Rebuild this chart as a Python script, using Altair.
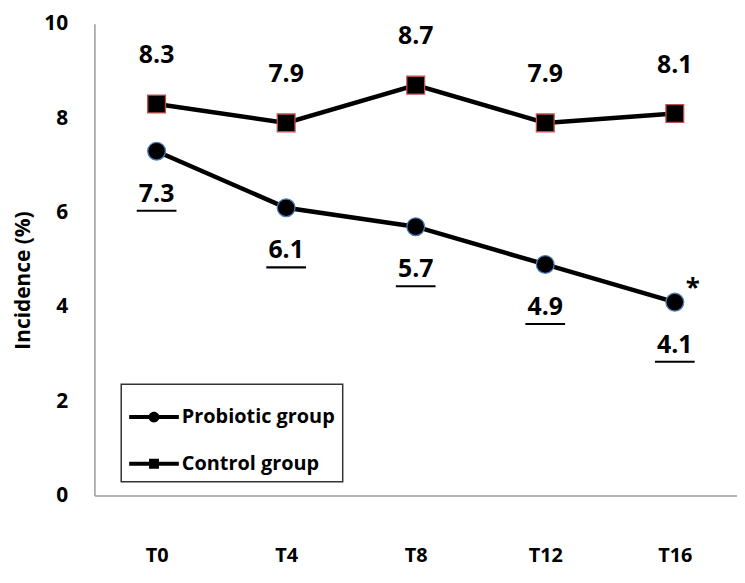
import altair as alt
import pandas as pd

times = ["T0", "T4", "T8", "T12", "T16"]
groups = ["Probiotic group", "Control group"]
probiotic = [7.3, 6.1, 5.7, 4.9, 4.1]
control = [8.3, 7.9, 8.7, 7.9, 8.1]
y_ticks = [0, 2, 4, 6, 8, 10]

FONT = "Open Sans"

df = pd.DataFrame(
    [{"time": t, "group": groups[0], "value": v} for t, v in zip(times, probiotic)]
    + [{"time": t, "group": groups[1], "value": v} for t, v in zip(times, control)]
)
df["label"] = df["value"].map(lambda v: f"{v:.1f}")
df["star"] = ""
df.loc[(df["group"] == groups[0]) & (df["time"] == "T16"), "star"] = "*"

x_enc = alt.X(
    "time:N",
    sort=times,
    scale=alt.Scale(type="point", padding=0.48),
    axis=alt.Axis(
        title=None, labelAngle=0, ticks=False, grid=False, domainColor="#9a9a9a",
        domainWidth=1.5, labelFont=FONT, labelFontWeight="bold", labelFontSize=20,
        labelColor="black", labelPadding=50,
    ),
)
y_enc = alt.Y(
    "value:Q",
    scale=alt.Scale(domain=[0, 10], nice=False, zero=True),
    axis=alt.Axis(
        title="Incidence (%)", values=y_ticks, ticks=False, grid=False,
        domainColor="#9a9a9a", domainWidth=1.5, labelFont=FONT,
        labelFontWeight="bold", labelFontSize=21, labelColor="black",
        labelPadding=27, titleFont=FONT, titleFontWeight="bold", titleFontSize=21,
        titleColor="black", titleX=-71, titleY=258, titleBaseline="middle",
    ),
)

base = alt.Chart(df)

lines = base.mark_line(color="black", strokeWidth=4.5).encode(
    x=x_enc, y=y_enc, detail="group:N"
)

pts_prob = base.transform_filter(alt.datum.group == groups[0]).mark_point(
    shape="circle", filled=True, fill="black", stroke="#4a7ebb", strokeWidth=1.3,
    size=320, opacity=1,
).encode(x=x_enc, y=y_enc)

pts_ctrl = base.transform_filter(alt.datum.group == groups[1]).mark_point(
    shape="square", filled=True, fill="black", stroke="#c0504d", strokeWidth=1.3,
    size=320, opacity=1,
).encode(x=x_enc, y=y_enc)

lbl_ctrl = base.transform_filter(alt.datum.group == groups[1]).mark_text(
    font=FONT, fontWeight="bold", fontSize=25, color="black", dy=-49,
    baseline="middle",
).encode(x=x_enc, y=y_enc, text="label:N")

lbl_prob = base.transform_filter(alt.datum.group == groups[0]).mark_text(
    font=FONT, fontWeight="bold", fontSize=25, color="black", dy=43,
    baseline="middle",
).encode(x=x_enc, y=y_enc, text="label:N")

underline = base.transform_filter(alt.datum.group == groups[0]).mark_tick(
    color="black", thickness=2.2, size=40, yOffset=60, orient="horizontal",
    opacity=1,
).encode(x=x_enc, y=y_enc)

star = base.transform_filter(alt.datum.star == "*").mark_text(
    font=FONT, fontWeight="bold", fontSize=26, color="black", dx=18, dy=-14,
    baseline="middle",
).encode(x=x_enc, y=y_enc, text="star:N")

circle_sym = (
    "M-1,-0.08H1V0.08H-1Z "
    "M-0.22,0A0.22,0.22,0,1,1,0.22,0A0.22,0.22,0,1,1,-0.22,0Z"
)
square_sym = "M-1,-0.08H1V0.08H-1Z M-0.2,-0.2H0.2V0.2H-0.2Z"

legend_layer = base.transform_filter("false").mark_point(
    filled=True, color="black", size=2500, opacity=1
).encode(
    x=x_enc,
    y=y_enc,
    shape=alt.Shape(
        "group:N",
        scale=alt.Scale(domain=groups, range=[circle_sym, square_sym]),
        legend=alt.Legend(
            title=None, orient="none", legendX=27, legendY=363,
            strokeColor="#333333", padding=8, labelFont=FONT,
            labelFontWeight="bold", labelFontSize=20, labelColor="black",
            labelOffset=3, rowPadding=12, symbolFillColor="black",
            symbolStrokeWidth=0, symbolSize=2500, symbolOpacity=1,
        ),
    ),
)

chart = (
    alt.layer(lines, pts_prob, pts_ctrl, lbl_ctrl, lbl_prob, underline, star, legend_layer)
    .properties(
        width=647, height=475,
        autosize=alt.AutoSizeParams(type="none"),
        padding={"left": 87, "top": 14, "right": 0, "bottom": 70},
    )
    .configure_view(stroke=None)
    .configure_legend(strokeWidth=1.5)
)

chart.save("out.html", embed_options={"renderer": "svg", "actions": False})
